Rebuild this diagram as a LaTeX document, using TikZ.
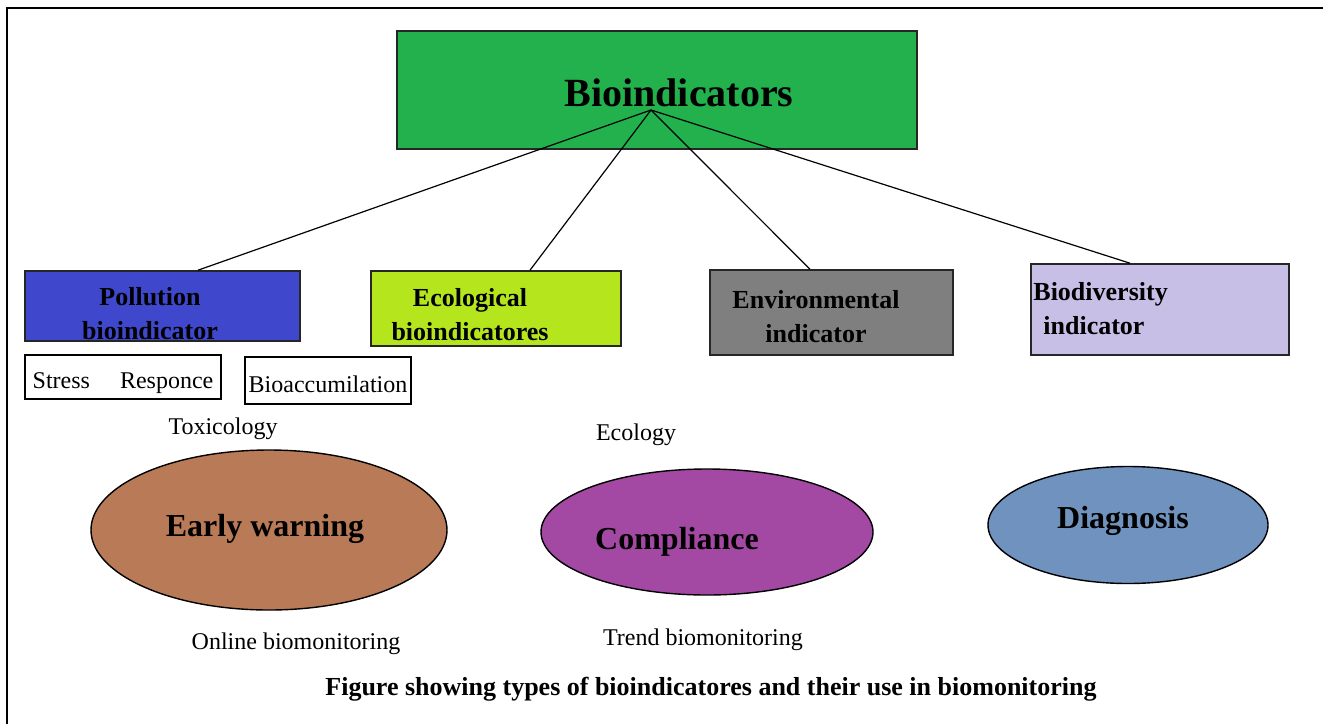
\documentclass[tikz,border=0pt]{standalone}
\usepackage{fontspec}
\setmainfont{Liberation Serif}
\usetikzlibrary{shapes.geometric}
\definecolor{biogreen}{HTML}{22B14C}
\definecolor{polblue}{HTML}{3F48CC}
\definecolor{ecolime}{HTML}{B5E61D}
\definecolor{envgray}{HTML}{7F7F7F}
\definecolor{bdvlilac}{HTML}{C8BFE7}
\definecolor{warnbrown}{HTML}{B97A57}
\definecolor{complpurple}{HTML}{A349A4}
\definecolor{diagblue}{HTML}{7092BE}
\tikzstyle{kind} = [rectangle, draw=black!85, line width=.8pt, inner sep=0pt]
\tikzstyle{use} = [ellipse, draw=black, line width=.7pt, inner sep=0pt]
\tikzstyle{kindtxt} = [align=center, inner sep=0pt, font=\fontsize{13}{17}\selectfont\bfseries]
\tikzstyle{usetxt} = [inner sep=0pt, font=\fontsize{16}{19}\selectfont\bfseries]
\tikzstyle{tag} = [rectangle, draw=black, line width=.6pt, inner sep=0pt, font=\fontsize{12}{14}\selectfont]
\tikzstyle{word} = [inner sep=0pt, font=\fontsize{12}{14}\selectfont]
\tikzstyle{link} = [line width=.6pt]
\newcommand{\low}[2]{\raisebox{-#1}[0pt][0pt]{#2}}

\begin{document}
\begin{tikzpicture}[x=0.5pt,y=-0.5pt]
	\useasboundingbox (0,0) rectangle (1323,724);
	\draw[line width=1.2pt] (1323,8) -- (7,8) -- (7,724);

	% top box
	\node[kind, fill=biogreen, minimum width=260pt, minimum height=59pt] (bio) at (657,90) {};
	\node[inner sep=0pt, font=\fontsize{20}{24}\selectfont\bfseries] (biotxt) at (679,93) {Bioindicators};
	\coordinate (hub) at (651,110);

	% kinds of bioindicators
	\node[kind, fill=polblue, minimum width=137.5pt, minimum height=35pt] (pol) at (162.5,306) {};
	\node[kindtxt] (poltxt) at (150,314) {Pollution\\bioindicator};
	\node[kind, fill=ecolime, minimum width=125pt, minimum height=37.5pt] (eco) at (496,308.5) {};
	\node[kindtxt] (ecotxt) at (470,315) {Ecological\\bioindicatores};
	\node[kind, fill=envgray, minimum width=121.5pt, minimum height=42.5pt] (env) at (831.5,312.5) {};
	\node[kindtxt] (envtxt) at (816,317) {Environmental\\indicator};
	\node[kind, fill=bdvlilac, minimum width=129pt, minimum height=45.5pt] (bdv) at (1160,309.5) {};
	\node[kindtxt, align=left, anchor=west] (bdvtxt) at (1033,309) {Biodiversity\\\hspace*{5pt}indicator};

	\draw[link] (hub) -- (pol.north -| 198,0);
	\draw[link] (hub) -- (eco.north -| 530,0);
	\draw[link] (hub) -- (env.north -| 810,0);
	\draw[link] (hub) -- (bdv.north -| 1130,0);

	% pollution subtypes
	\node[tag, minimum width=98pt, minimum height=22pt] (stress) at (123,377) {\low{5.5pt}{Stress\hspace{15pt}Responce}};
	\node[tag, minimum width=83pt, minimum height=23.5pt] (bioacc) at (328,380.5) {\low{5.75pt}{Bioaccumilation}};
	\node[word] (toxi) at (223,429) {Toxicology};
	\node[word] (ecol) at (636,435) {Ecology};

	% uses in biomonitoring
	\node[use, fill=warnbrown, minimum width=178pt, minimum height=80pt] (early) at (269,530) {};
	\node[usetxt] (earlytxt) at (265,529) {Early warning};
	\node[use, fill=complpurple, minimum width=166pt, minimum height=63pt] (compl) at (707,532) {};
	\node[usetxt] (compltxt) at (677,542) {Compliance};
	\node[use, fill=diagblue, minimum width=140pt, minimum height=58.5pt] (diag) at (1128,525) {};
	\node[usetxt] (diagtxt) at (1123,521) {Diagnosis};

	\node[word] (online) at (296,644) {Online biomonitoring};
	\node[word] (trend) at (703,640) {Trend biomonitoring};
	\node[inner sep=0pt, font=\fontsize{13}{15}\selectfont\bfseries] (caption) at (711,689) {Figure showing types of bioindicatores and their use in biomonitoring};
\end{tikzpicture}
\end{document}
